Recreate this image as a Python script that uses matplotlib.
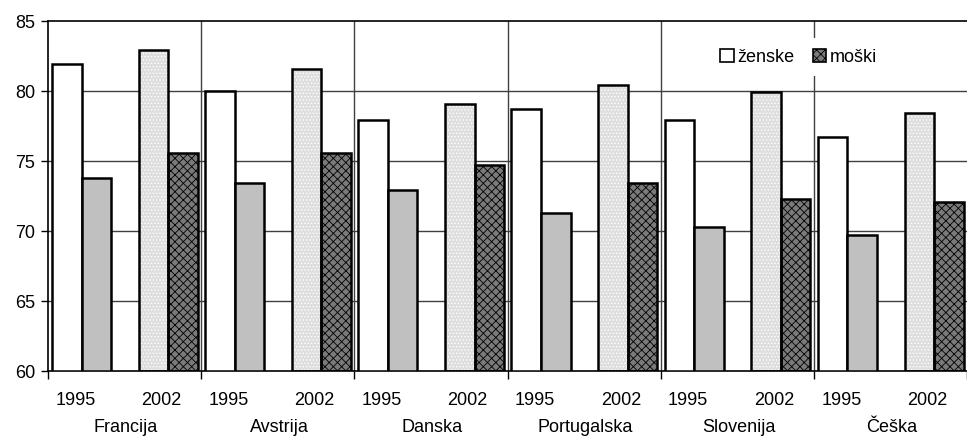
import numpy as np
import matplotlib.pyplot as plt
from matplotlib.patches import Patch

plt.rcParams['font.family'] = ['Liberation Sans', 'DejaVu Sans']
plt.rcParams['hatch.linewidth'] = 0.6

# data
countries = ['Francija', 'Avstrija', 'Danska', 'Portugalska', 'Slovenija', 'Češka']
years = ['1995', '2002']
women_1995 = [81.9, 80.0, 77.9, 78.7, 77.9, 76.7]
men_1995 = [73.8, 73.4, 72.9, 71.3, 70.3, 69.7]
women_2002 = [82.9, 81.6, 79.1, 80.4, 79.9, 78.4]
men_2002 = [75.6, 75.6, 74.7, 73.4, 72.3, 72.1]
yticks = [60, 65, 70, 75, 80, 85]

fs = 13

fig = plt.figure(figsize=(9.67, 4.36), dpi=100)
ax = fig.add_axes([48 / 967, 65 / 436, 919 / 967, 350 / 436])

x = np.arange(len(countries))
w = 0.193

def draw(pos, vals, face, hatch=None, hcol=None):
    if hatch:
        ax.bar(pos, [v - 60 for v in vals], w, bottom=60, align='edge',
               color=face, hatch=hatch, edgecolor=hcol, linewidth=0, zorder=2)
        ax.bar(pos, [v - 60 for v in vals], w, bottom=60, align='edge',
               fill=False, edgecolor='black', linewidth=1.8, zorder=3)
    else:
        ax.bar(pos, [v - 60 for v in vals], w, bottom=60, align='edge',
               color=face, edgecolor='black', linewidth=1.8, zorder=3)

draw(x + 0.026, women_1995, 'white')
draw(x + 0.219, men_1995, '#c0c0c0')
draw(x + 0.592, women_2002, '#dedede', '.....', 'white')
draw(x + 0.785, men_2002, '#7a7a7a', 'xxxx', 'black')

ax.set_ylim(60, 85)
ax.set_xlim(0, 919 / 155.5)
ax.set_yticks(yticks)
ax.tick_params(axis='y', direction='out', length=5, width=1, labelsize=fs, pad=4)
for v in yticks[1:-1]:
    ax.axhline(v, color='#404040', linewidth=1, zorder=1)
for i in range(1, len(countries)):
    ax.axvline(i, color='#404040', linewidth=1, zorder=1)

ax.set_xticks(np.arange(len(countries) + 1))
ax.set_xticklabels([])
ax.tick_params(axis='x', direction='out', length=6, width=1)

for s in ['left', 'bottom', 'top']:
    ax.spines[s].set_linewidth(1.2)
ax.spines['right'].set_visible(False)

tr = ax.get_xaxis_transform()
for i, c in enumerate(countries):
    ax.text(i + 0.18, -0.083, years[0], transform=tr, ha='center', va='center', fontsize=fs)
    ax.text(i + 0.74, -0.083, years[1], transform=tr, ha='center', va='center', fontsize=fs)
    ax.text(i + 0.51, -0.16, c, transform=tr, ha='center', va='center', fontsize=fs)

handles = [Patch(facecolor='white', edgecolor='black', linewidth=1.2, label='ženske'),
           Patch(facecolor='#7a7a7a', edgecolor='black', hatch='xxxx', linewidth=1.2, label='moški')]
leg = fig.legend(handles=handles, loc='center', bbox_to_anchor=(0.826, 0.869), ncol=2,
                 frameon=True, fontsize=fs, handlelength=0.75, handleheight=0.75,
                 handletextpad=0.2, columnspacing=1.0, borderpad=0.6)
leg.get_frame().set_edgecolor('none')
leg.get_frame().set_facecolor('white')
leg.get_frame().set_alpha(1)
leg.set_zorder(5)

fig.savefig('out.png', dpi=100)
